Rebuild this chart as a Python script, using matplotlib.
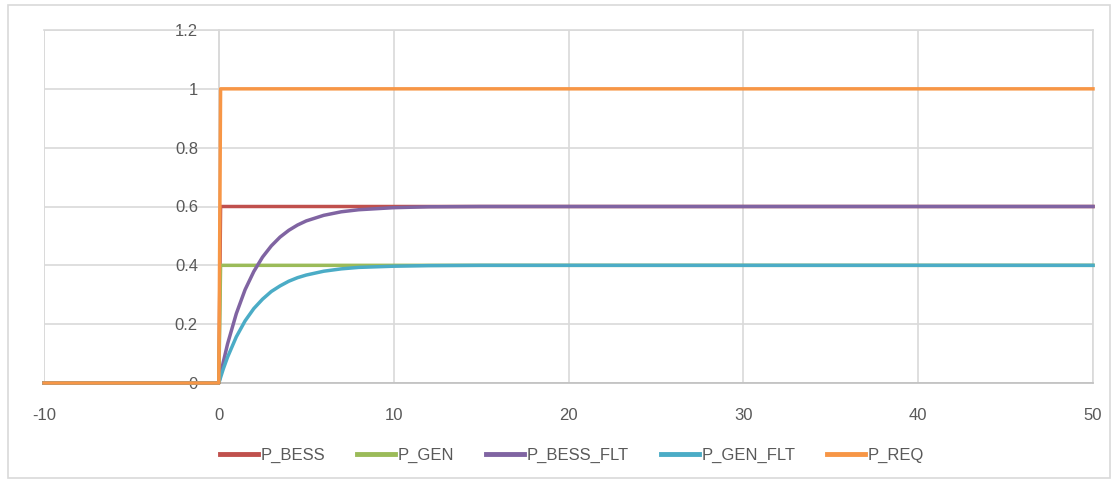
import matplotlib
matplotlib.use("Agg")
import matplotlib.pyplot as plt
from matplotlib.patches import Rectangle

plt.rcParams['font.family'] = ['Liberation Sans Narrow', 'Liberation Sans', 'DejaVu Sans']
plt.rcParams['axes.unicode_minus'] = False

# step series
t_step = [-10, 0, 0.1, 50]
p_bess = [0, 0, 0.6, 0.6]
p_gen = [0, 0, 0.4, 0.4]
p_req = [0, 0, 1.0, 1.0]

# filtered series
t_flt = [-10, 0, 0.25, 0.5, 1, 1.5, 2, 2.5, 3, 3.5, 4, 4.5, 5, 6, 7, 8, 10, 12, 15, 20, 50]
p_bess_flt = [0, 0, 0.070, 0.133, 0.236, 0.317, 0.379, 0.428, 0.466, 0.496, 0.519, 0.537,
              0.551, 0.570, 0.582, 0.589, 0.596, 0.599, 0.600, 0.600, 0.600]
p_gen_flt = [0, 0, 0.047, 0.088, 0.157, 0.211, 0.253, 0.285, 0.311, 0.330, 0.346, 0.358,
             0.367, 0.380, 0.388, 0.393, 0.397, 0.399, 0.400, 0.400, 0.400]

x_ticks = [-10, 0, 10, 20, 30, 40, 50]
y_ticks = [0, 0.2, 0.4, 0.6, 0.8, 1.0, 1.2]
y_labels = ['0', '0.2', '0.4', '0.6', '0.8', '1', '1.2']

W, H = 1117, 483
fig = plt.figure(figsize=(W / 100, H / 100), dpi=100)
ax = fig.add_axes([44 / W, 1 - 383 / H, (1093 - 44) / W, (383 - 30) / H])

lw = 2.5
kw = dict(lw=lw, clip_on=False, solid_joinstyle='round', zorder=3)
ax.plot(t_step, p_bess, color='#C0504D', label='P_BESS', **kw)
ax.plot(t_step, p_gen, color='#9BBB59', label='P_GEN', **kw)
ax.plot(t_flt, p_bess_flt, color='#8064A2', label='P_BESS_FLT', **kw)
ax.plot(t_flt, p_gen_flt, color='#4BACC6', label='P_GEN_FLT', **kw)
ax.plot(t_step, p_req, color='#F79646', label='P_REQ', **kw)

ax.set_xlim(-10, 50)
ax.set_ylim(0, 1.2)
ax.set_xticks(x_ticks)
ax.set_yticks(y_ticks)
ax.set_yticklabels(y_labels)
ax.grid(True, color='#d9d9d9', lw=1.2)
ax.set_axisbelow(True)

for s in ['top', 'right']:
    ax.spines[s].set_color('#d9d9d9')
    ax.spines[s].set_linewidth(1.2)
ax.spines['bottom'].set_color('#bfbfbf')
ax.spines['bottom'].set_linewidth(1.2)
ax.spines['left'].set_position(('data', 0))
ax.spines['left'].set_color('#d9d9d9')
ax.spines['left'].set_linewidth(1.2)
ax.axvline(-10, color='#d9d9d9', lw=1.2, zorder=0)

ax.tick_params(axis='both', length=0, labelsize=12, colors='#595959')
ax.tick_params(axis='y', pad=15)
ax.tick_params(axis='x', pad=18)

fig.legend(loc='center', bbox_to_anchor=(572 / W, 1 - 455 / H), ncol=5, frameon=False,
           fontsize=12, handlelength=2.3, handletextpad=0.15, columnspacing=1.9,
           labelcolor='#595959')
for l in fig.legends[0].get_lines():
    l.set_linewidth(3.5)

fig.patches.append(Rectangle((8 / W, 1 - 478 / H), (1110 - 8) / W, (478 - 5) / H,
                             transform=fig.transFigure, fill=False, edgecolor='#d9d9d9', lw=1.2))

fig.savefig('out.png', dpi=100)
